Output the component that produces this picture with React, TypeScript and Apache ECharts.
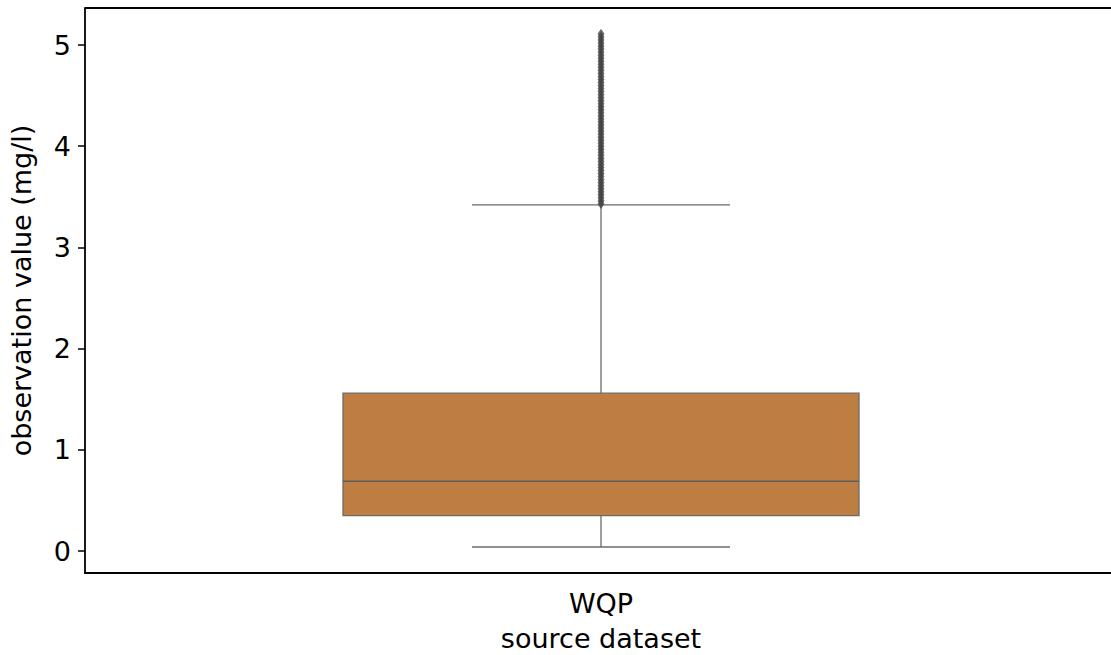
import React, { useEffect, useRef } from "react";
import * as echarts from "echarts";

const categories = ["WQP"];
// [low whisker, Q1, median, Q3, high whisker]
const boxStats = [[0.04, 0.35, 0.69, 1.56, 3.42]];
const outliers = [
  3.43, 3.46, 3.49, 3.52, 3.55, 3.58, 3.61, 3.64, 3.67, 3.7, 3.73, 3.76, 3.79, 3.82,
  3.85, 3.88, 3.91, 3.94, 3.97, 4.0, 4.03, 4.06, 4.09, 4.12, 4.15, 4.18, 4.21, 4.24,
  4.27, 4.3, 4.33, 4.36, 4.39, 4.42, 4.45, 4.48, 4.51, 4.54, 4.57, 4.6, 4.63, 4.66,
  4.69, 4.72, 4.75, 4.78, 4.81, 4.84, 4.87, 4.9, 4.93, 4.96, 4.99, 5.02, 5.05, 5.08, 5.11,
];
const yTicks = [0, 1, 2, 3, 4, 5];
const yMin = -0.217;
const yMax = 5.366;

const FONT = "DejaVu Sans";
const BOX_FILL = "#bf7e41";
const LINE = "#6b6b6b";

export default function App() {
  const ref = useRef<HTMLDivElement>(null);
  useEffect(() => {
    if (!ref.current) return;
    const chart = echarts.init(ref.current, null, { renderer: "svg" });
    chart.setOption({
      animation: false,
      backgroundColor: "#ffffff",
      grid: { left: 85, top: 8, right: -6, bottom: 82, containLabel: false, outerBoundsMode: "none" },
      graphic: [
        {
          type: "line",
          shape: { x1: 85, y1: 8, x2: 1111, y2: 8 },
          style: { stroke: "#000", lineWidth: 1.8 },
          z: 100,
        },
      ],
      xAxis: {
        type: "category",
        data: categories,
        boundaryGap: true,
        name: "source dataset",
        nameLocation: "middle",
        nameGap: 52,
        nameTextStyle: { fontFamily: FONT, fontSize: 27, color: "#000" },
        axisLine: { onZero: false, lineStyle: { color: "#000", width: 1.8 } },
        axisTick: { alignWithLabel: true, length: 7, lineStyle: { color: "#000", width: 1.5 } },
        axisLabel: { fontFamily: FONT, fontSize: 27, color: "#000", margin: 17 },
        splitLine: { show: false },
      },
      yAxis: {
        type: "value",
        min: yMin,
        max: yMax,
        name: "observation value (mg/l)",
        nameLocation: "middle",
        nameGap: 50,
        nameTextStyle: { fontFamily: FONT, fontSize: 27, color: "#000" },
        axisLine: { show: true, onZero: false, lineStyle: { color: "#000", width: 1.8 } },
        axisTick: { show: true, length: 7, customValues: yTicks, lineStyle: { color: "#000", width: 1.5 } },
        axisLabel: { fontFamily: FONT, fontSize: 27, color: "#000", margin: 14, customValues: yTicks },
        splitLine: { show: false },
      },
      series: [
        {
          type: "custom",
          data: boxStats.map((s, i) => [i, ...s]),
          encode: { x: 0, y: [1, 2, 3, 4, 5] },
          renderItem: (params: any, api: any) => {
            const x = api.value(0);
            const low = api.coord([x, api.value(1)]);
            const q1 = api.coord([x, api.value(2)]);
            const med = api.coord([x, api.value(3)]);
            const q3 = api.coord([x, api.value(4)]);
            const high = api.coord([x, api.value(5)]);
            const band = api.size([1, 0])[0];
            const bw = band * 0.5;
            const cw = bw * 0.5;
            const cx = low[0];
            const ls = { stroke: LINE, lineWidth: 1.3 };
            return {
              type: "group",
              children: [
                { type: "line", shape: { x1: cx, y1: low[1], x2: cx, y2: q1[1] }, style: ls },
                { type: "line", shape: { x1: cx, y1: q3[1], x2: cx, y2: high[1] }, style: ls },
                { type: "line", shape: { x1: cx - cw / 2, y1: low[1], x2: cx + cw / 2, y2: low[1] }, style: ls },
                { type: "line", shape: { x1: cx - cw / 2, y1: high[1], x2: cx + cw / 2, y2: high[1] }, style: ls },
                {
                  type: "rect",
                  shape: { x: cx - bw / 2, y: q3[1], width: bw, height: q1[1] - q3[1] },
                  style: { fill: BOX_FILL, stroke: LINE, lineWidth: 1.3 },
                },
                { type: "line", shape: { x1: cx - bw / 2, y1: med[1], x2: cx + bw / 2, y2: med[1] }, style: { stroke: "#5e5e5e", lineWidth: 1.5 } },
              ],
            };
          },
          z: 2,
        },
        {
          type: "scatter",
          data: outliers.map((v) => [categories[0], v]),
          symbol: "diamond",
          symbolSize: [6, 9],
          itemStyle: { color: "#444444", borderColor: "#444444", borderWidth: 0.8 },
          z: 3,
        },
      ],
    });
    return () => chart.dispose();
  }, []);
  return <div ref={ref} style={{ width: 1111, height: 655, position: "absolute", left: 0, top: 0 }} />;
}
